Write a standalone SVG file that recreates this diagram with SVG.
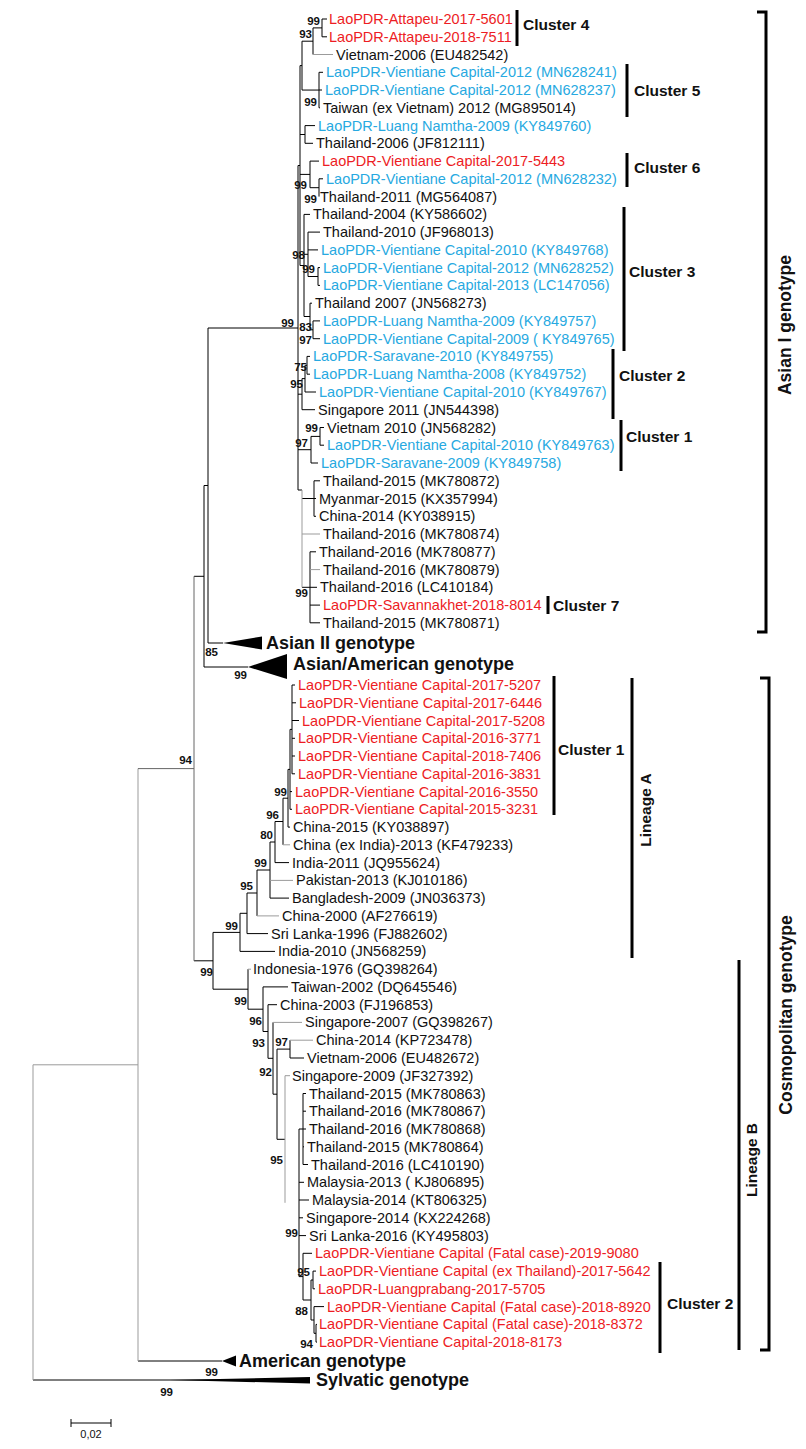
<svg xmlns="http://www.w3.org/2000/svg" width="806" height="1449" viewBox="0 0 806 1449">
<style>
text{font-family:"Liberation Sans",Arial,sans-serif}
.t{font-size:14.5px;fill:#111}
.r{fill:#ed1c24}
.b{fill:#27a9e1}
.bs{font-size:11.5px;font-weight:bold;fill:#111;text-anchor:end}
.cl{font-size:15.5px;font-weight:bold;fill:#111}
.gt{font-size:18px;font-weight:bold;fill:#111}
.vt{font-size:17.5px;font-weight:bold;fill:#111;text-anchor:middle}
.br{fill:none;stroke:#000;stroke-width:1}
.gr{fill:none;stroke:#9b9b9b;stroke-width:1}
.dg{fill:none;stroke:#666;stroke-width:1}
.bar{fill:none;stroke:#000;stroke-width:3}
</style>
<rect width="806" height="1449" fill="#fff"/>
<g id="connectors">
<path class="br" d="M322 19V36.8M322 19H327M322 36.8H327M313 27.9H322M313 27.9V54.5
M319 72.3V107.8M319 72.3H323M319 90H322M319 107.8H320
M302 41.2V90.05M302 41.2H313M302 90.05H319
M305 125.6V143.3M305 125.6H315M305 143.3H313
M310 161.1V187.7M310 161.1H319M310 187.7H319M319 178.8V196.6M319 178.8H323
M318 267.6V285.4M318 267.6H320M318 285.4H320
M308 232.1V276.5M308 232.1H320M308 249.9H318M308 276.5H318
M313 320.9V338.7M313 320.9H320M313 338.7H320
M310 303.2V329.8M310 303.2H312M310 329.8H313
M304 214.4V316.5M304 214.4H310M304 254.3H308M304 316.5H310
M300 65.6V265.5M300 65.6H302M300 134.5H305M300 174.4H310M300 265.5H304
M307 356.4V374.2M307 356.4H310M307 374.2H310
M305 365.3V392M305 365.3H307M305 392H316
M302 378.6V409.7M302 378.6H305M302 409.7H315
M320 427.5V445.2M320 427.5H324M320 445.2H324
M311 436.4V463M311 436.4H320M311 463H318
M314 480.8V516.3M314 480.8H320M314 498.5H316M314 516.3H316
M310 551.8V622.8M310 551.8H316M310 587.3H317M310 605.1H320M310 622.8H320
M302 498.5H314M302 587.3H310
M298 165.5V490M298 165.5H300M298 394.2H302M298 449.7H311M298 490H302M208 328H298
M208 328V643M208 643H223
M204 485.5V667M204 485.5H208M204 667H248
M194 576.3H204
M292 685V773.8M292 685H295M292 702.8H296M292 720.5H299M292 738.3H295M292 756H295M292 773.8H295
M290 729.4V809.3M290 729.4H292M290 791.6H292M290 809.3H292
M288 769.4V827.1M288 769.4H290M288 827.1H290
M283 798.2V844.8M283 798.2H288
M275 821.5V862.6M275 821.5H283M275 862.6H289
M270 842V898.1M270 842H275M270 898.1H289
M257 870V915.9M257 870H270
M247 893V933.6M247 893H257M247 933.6H268
M240 913.3V951.4M240 913.3H247M240 951.4H275
M213 932.4V989.2M213 932.4H240M213 989.2H248M194 960.8H213
M248 969.2V1009.2M248 1009.2H263
M263 986.9V1031.5M263 986.9H288M263 1031.5H268
M268 1004.7V1058.3M268 1004.7H277M268 1058.3H273
M273 1022.4V1094.2M273 1094.2H277
M277 1049.1V1139.3M277 1049.1H290M277 1139.3H285
M290 1040.2V1058M290 1058H304
M299 1129V1276.6M299 1129H303M299 1182.3H304M299 1200H309M299 1217.8H303M299 1235.6H306M299 1276.6H303
M303 1093.5V1164.5M303 1093.5H306M303 1111.2H306M303 1129H306M303 1146.8H304M303 1164.5H308
M303 1253.3V1300M303 1253.3H312M303 1300H311
M311 1280V1320M311 1280H313M311 1320H314
M313 1271.1V1288.8M313 1271.1H316M313 1288.8H315
M314 1306.6V1333.3M314 1306.6H324M314 1333.3H316
M316 1324.4V1342.1M316 1324.4H317M316 1342.1H317
M138 1361H222M33 1380H310"/>
<path class="gr" d="M313 54.5H333M302 490V587.3M302 534H320M310 569.6H320M283 844.8H290M270 880.4H293M257 915.9H279M248 969.2H251M273 1022.4H302M290 1040.2H313M285 1075.7V1202.8M285 1075.7H290M33 1064.8V1380M33 1064.8H138M138 768.6V1361"/>
<path class="dg" d="M194 576.3V960.8M138 768.6H194"/>
<polygon points="223,643 262,636.5 262,649.5" fill="#000"/>
<polygon points="248,667 287,654 287,679" fill="#000"/>
<polygon points="222,1361 236,1355.5 236,1366.5" fill="#000"/>
<polygon points="170,1380 310,1377 310,1383.5" fill="#000"/>
</g>
<g id="taxa">
<g id="t01"><text class="t r" x="329" y="24">LaoPDR-Attapeu-2017-5601</text></g>
<g id="t02"><text class="t r" x="329" y="41.8">LaoPDR-Attapeu-2018-7511</text></g>
<g id="t03"><text class="t" x="336" y="59.5">Vietnam-2006 (EU482542)</text></g>
<g id="t04"><text class="t b" x="326" y="77.3">LaoPDR-Vientiane Capital-2012 (MN628241)</text></g>
<g id="t05"><text class="t b" x="325" y="95">LaoPDR-Vientiane Capital-2012 (MN628237)</text></g>
<g id="t06"><text class="t" x="323" y="112.8">Taiwan (ex Vietnam) 2012 (MG895014)</text></g>
<g id="t07"><text class="t b" x="318" y="130.6">LaoPDR-Luang Namtha-2009 (KY849760)</text></g>
<g id="t08"><text class="t" x="316" y="148.3">Thailand-2006 (JF812111)</text></g>
<g id="t09"><text class="t r" x="322" y="166.1">LaoPDR-Vientiane Capital-2017-5443</text></g>
<g id="t10"><text class="t b" x="326" y="183.8">LaoPDR-Vientiane Capital-2012 (MN628232)</text></g>
<g id="t11"><text class="t" x="320" y="201.6">Thailand-2011 (MG564087)</text></g>
<g id="t12"><text class="t" x="313" y="219.4">Thailand-2004 (KY586602)</text></g>
<g id="t13"><text class="t" x="323" y="237.1">Thailand-2010 (JF968013)</text></g>
<g id="t14"><text class="t b" x="321" y="254.9">LaoPDR-Vientiane Capital-2010 (KY849768)</text></g>
<g id="t15"><text class="t b" x="323" y="272.6">LaoPDR-Vientiane Capital-2012 (MN628252)</text></g>
<g id="t16"><text class="t b" x="323" y="290.4">LaoPDR-Vientiane Capital-2013 (LC147056)</text></g>
<g id="t17"><text class="t" x="315" y="308.2">Thailand 2007 (JN568273)</text></g>
<g id="t18"><text class="t b" x="323" y="325.9">LaoPDR-Luang Namtha-2009 (KY849757)</text></g>
<g id="t19"><text class="t b" x="323" y="343.7">LaoPDR-Vientiane Capital-2009 ( KY849765)</text></g>
<g id="t20"><text class="t b" x="313" y="361.4">LaoPDR-Saravane-2010 (KY849755)</text></g>
<g id="t21"><text class="t b" x="313" y="379.2">LaoPDR-Luang Namtha-2008 (KY849752)</text></g>
<g id="t22"><text class="t b" x="319" y="397">LaoPDR-Vientiane Capital-2010 (KY849767)</text></g>
<g id="t23"><text class="t" x="318" y="414.7">Singapore 2011 (JN544398)</text></g>
<g id="t24"><text class="t" x="327" y="432.5">Vietnam 2010 (JN568282)</text></g>
<g id="t25"><text class="t b" x="327" y="450.2">LaoPDR-Vientiane Capital-2010 (KY849763)</text></g>
<g id="t26"><text class="t b" x="321" y="468">LaoPDR-Saravane-2009 (KY849758)</text></g>
<g id="t27"><text class="t" x="323" y="485.8">Thailand-2015 (MK780872)</text></g>
<g id="t28"><text class="t" x="319" y="503.5">Myanmar-2015 (KX357994)</text></g>
<g id="t29"><text class="t" x="319" y="521.3">China-2014 (KY038915)</text></g>
<g id="t30"><text class="t" x="323" y="539">Thailand-2016 (MK780874)</text></g>
<g id="t31"><text class="t" x="319" y="556.8">Thailand-2016 (MK780877)</text></g>
<g id="t32"><text class="t" x="323" y="574.6">Thailand-2016 (MK780879)</text></g>
<g id="t33"><text class="t" x="320" y="592.3">Thailand-2016 (LC410184)</text></g>
<g id="t34"><text class="t r" x="323" y="610.1">LaoPDR-Savannakhet-2018-8014</text></g>
<g id="t35"><text class="t" x="323" y="627.8">Thailand-2015 (MK780871)</text></g>
<g id="t36"><text class="t r" x="298" y="690">LaoPDR-Vientiane Capital-2017-5207</text></g>
<g id="t37"><text class="t r" x="299" y="707.8">LaoPDR-Vientiane Capital-2017-6446</text></g>
<g id="t38"><text class="t r" x="302" y="725.5">LaoPDR-Vientiane Capital-2017-5208</text></g>
<g id="t39"><text class="t r" x="298" y="743.3">LaoPDR-Vientiane Capital-2016-3771</text></g>
<g id="t40"><text class="t r" x="298" y="761">LaoPDR-Vientiane Capital-2018-7406</text></g>
<g id="t41"><text class="t r" x="298" y="778.8">LaoPDR-Vientiane Capital-2016-3831</text></g>
<g id="t42"><text class="t r" x="295" y="796.6">LaoPDR-Vientiane Capital-2016-3550</text></g>
<g id="t43"><text class="t r" x="295" y="814.3">LaoPDR-Vientiane Capital-2015-3231</text></g>
<g id="t44"><text class="t" x="293" y="832.1">China-2015 (KY038897)</text></g>
<g id="t45"><text class="t" x="293" y="849.8">China (ex India)-2013 (KF479233)</text></g>
<g id="t46"><text class="t" x="292" y="867.6">India-2011 (JQ955624)</text></g>
<g id="t47"><text class="t" x="296" y="885.4">Pakistan-2013 (KJ010186)</text></g>
<g id="t48"><text class="t" x="292" y="903.1">Bangladesh-2009 (JN036373)</text></g>
<g id="t49"><text class="t" x="282" y="920.9">China-2000 (AF276619)</text></g>
<g id="t50"><text class="t" x="271" y="938.6">Sri Lanka-1996 (FJ882602)</text></g>
<g id="t51"><text class="t" x="278" y="956.4">India-2010 (JN568259)</text></g>
<g id="t52"><text class="t" x="253" y="974.2">Indonesia-1976 (GQ398264)</text></g>
<g id="t53"><text class="t" x="291" y="991.9">Taiwan-2002 (DQ645546)</text></g>
<g id="t54"><text class="t" x="280" y="1009.7">China-2003 (FJ196853)</text></g>
<g id="t55"><text class="t" x="305" y="1027.4">Singapore-2007 (GQ398267)</text></g>
<g id="t56"><text class="t" x="316" y="1045.2">China-2014 (KP723478)</text></g>
<g id="t57"><text class="t" x="307" y="1063">Vietnam-2006 (EU482672)</text></g>
<g id="t58"><text class="t" x="292" y="1080.7">Singapore-2009 (JF327392)</text></g>
<g id="t59"><text class="t" x="309" y="1098.5">Thailand-2015 (MK780863)</text></g>
<g id="t60"><text class="t" x="309" y="1116.2">Thailand-2016 (MK780867)</text></g>
<g id="t61"><text class="t" x="309" y="1134">Thailand-2016 (MK780868)</text></g>
<g id="t62"><text class="t" x="307" y="1151.8">Thailand-2015 (MK780864)</text></g>
<g id="t63"><text class="t" x="311" y="1169.5">Thailand-2016 (LC410190)</text></g>
<g id="t64"><text class="t" x="307" y="1187.3">Malaysia-2013 ( KJ806895)</text></g>
<g id="t65"><text class="t" x="312" y="1205">Malaysia-2014 (KT806325)</text></g>
<g id="t66"><text class="t" x="306" y="1222.8">Singapore-2014 (KX224268)</text></g>
<g id="t67"><text class="t" x="309" y="1240.6">Sri Lanka-2016 (KY495803)</text></g>
<g id="t68"><text class="t r" x="315" y="1258.3">LaoPDR-Vientiane Capital (Fatal case)-2019-9080</text></g>
<g id="t69"><text class="t r" x="319" y="1276.1">LaoPDR-Vientiane Capital (ex Thailand)-2017-5642</text></g>
<g id="t70"><text class="t r" x="318" y="1293.8">LaoPDR-Luangprabang-2017-5705</text></g>
<g id="t71"><text class="t r" x="327" y="1311.6">LaoPDR-Vientiane Capital (Fatal case)-2018-8920</text></g>
<g id="t72"><text class="t r" x="319" y="1329.4">LaoPDR-Vientiane Capital (Fatal case)-2018-8372</text></g>
<g id="t73"><text class="t r" x="319" y="1347.1">LaoPDR-Vientiane Capital-2018-8173</text></g>
</g>
<g id="collapsed">
<g id="asian2"><text class="gt" x="266" y="649">Asian II genotype</text></g>
<g id="asianamerican"><text class="gt" x="293" y="670">Asian/American genotype</text></g>
<g id="american"><text class="gt" x="239" y="1367">American genotype</text></g>
<g id="sylvatic"><text class="gt" x="316" y="1386">Sylvatic genotype</text></g>
</g>
<g id="bootstrap">
<text class="bs" x="320" y="25">99</text>
<text class="bs" x="312" y="38">93</text>
<text class="bs" x="317" y="106">99</text>
<text class="bs" x="307" y="189">99</text>
<text class="bs" x="317" y="203">99</text>
<text class="bs" x="305" y="259">98</text>
<text class="bs" x="315" y="273">99</text>
<text class="bs" x="294" y="327">99</text>
<text class="bs" x="312" y="331">83</text>
<text class="bs" x="312" y="344">97</text>
<text class="bs" x="307" y="371">75</text>
<text class="bs" x="303" y="388">95</text>
<text class="bs" x="318" y="432">99</text>
<text class="bs" x="308" y="447">97</text>
<text class="bs" x="308" y="597">99</text>
<text class="bs" x="218" y="656">85</text>
<text class="bs" x="247" y="679">99</text>
<text class="bs" x="192" y="764">94</text>
<text class="bs" x="287" y="796">99</text>
<text class="bs" x="279" y="819">96</text>
<text class="bs" x="273" y="839">80</text>
<text class="bs" x="267" y="867">99</text>
<text class="bs" x="253" y="890">95</text>
<text class="bs" x="238" y="930">99</text>
<text class="bs" x="213" y="976">99</text>
<text class="bs" x="247" y="1005">99</text>
<text class="bs" x="262" y="1025">96</text>
<text class="bs" x="265" y="1047">93</text>
<text class="bs" x="288" y="1046">97</text>
<text class="bs" x="272" y="1076">92</text>
<text class="bs" x="283" y="1164">95</text>
<text class="bs" x="298" y="1237">99</text>
<text class="bs" x="310" y="1276">95</text>
<text class="bs" x="308" y="1315">88</text>
<text class="bs" x="313" y="1348">94</text>
<text class="bs" x="218" y="1376">99</text>
<text class="bs" x="173" y="1396">99</text>
</g>
<g id="brackets">
<g id="cluster4"><path class="bar" d="M517 10V46"/><text class="cl" x="523" y="30">Cluster 4</text></g>
<g id="cluster5"><path class="bar" d="M627 64V117"/><text class="cl" x="634" y="96">Cluster 5</text></g>
<g id="cluster6"><path class="bar" d="M627 153V187"/><text class="cl" x="634" y="173">Cluster 6</text></g>
<g id="cluster3"><path class="bar" d="M624 207V351"/><text class="cl" x="629" y="277">Cluster 3</text></g>
<g id="cluster2a"><path class="bar" d="M613 349V419"/><text class="cl" x="619" y="381">Cluster 2</text></g>
<g id="cluster1a"><path class="bar" d="M621 420V471"/><text class="cl" x="626" y="442">Cluster 1</text></g>
<g id="cluster7"><path class="bar" d="M548 596V614"/><text class="cl" x="553" y="611">Cluster 7</text></g>
<g id="asian1"><path class="bar" d="M757 12H766V632H757"/><text class="vt" transform="translate(791 325) rotate(-90)">Asian I genotype</text></g>
<g id="cluster1b"><path class="bar" d="M554 676V815"/><text class="cl" x="558" y="755">Cluster 1</text></g>
<g id="lineageA"><path class="bar" d="M632 678V958"/><text class="vt" style="font-size:15.5px" transform="translate(651 810) rotate(-90)">Lineage A</text></g>
<g id="lineageB"><path class="bar" d="M739 960V1350"/><text class="vt" style="font-size:15.5px" transform="translate(757 1160) rotate(-90)">Lineage B</text></g>
<g id="cluster2b"><path class="bar" d="M660 1262V1353"/><text class="cl" x="667" y="1309">Cluster 2</text></g>
<g id="cosmopolitan"><path class="bar" d="M760 678H769V1350H760"/><text class="vt" transform="translate(792 1015) rotate(-90)">Cosmopolitan genotype</text></g>
</g>
<g id="scalebar">
<path class="br" d="M71 1423H111M71 1419V1427M111 1419V1427"/>
<text x="91" y="1438" style="font-size:11px;fill:#111;text-anchor:middle">0,02</text>
</g>
</svg>
